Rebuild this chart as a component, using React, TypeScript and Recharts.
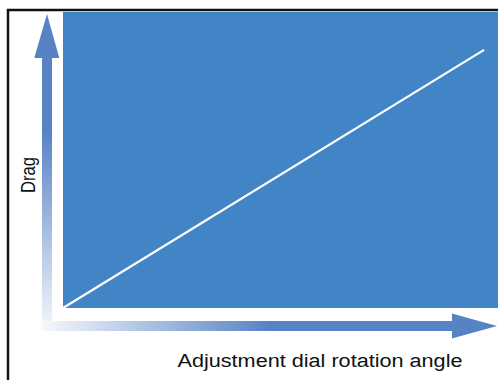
import { CartesianGrid, ComposedChart, Customized, Line, XAxis, YAxis } from 'recharts'

// dial rotation angle (% of range) vs drag (% of range)
const angle = [0, 96.8]
const drag = [0, 87.2]
const xTitle = 'Adjustment dial rotation angle'
const yTitle = 'Drag'

const data = angle.map((a, i) => ({ angle: a, drag: drag[i] }))

const W = 498
const H = 380
const PLOT_BG = '#4285c6'
const ARROW = '#5783c5'
const FONT = '"Liberation Sans", Arial, Helvetica, sans-serif'

function Decorations(): React.JSX.Element {
  return (
    <g>
      <defs>
        <linearGradient id="vGrad" x1="0" y1="1" x2="0" y2="0">
          <stop offset="0" stopColor="#f6f8fc" />
          <stop offset="0.63" stopColor={ARROW} />
          <stop offset="1" stopColor={ARROW} />
        </linearGradient>
        <linearGradient id="hGrad" x1="0" y1="0" x2="1" y2="0">
          <stop offset="0" stopColor="#f6f8fc" />
          <stop offset="0.5" stopColor={ARROW} />
          <stop offset="1" stopColor={ARROW} />
        </linearGradient>
      </defs>
      {/* vertical arrow */}
      <polygon
        points="42,331 42,58 34.3,58 47,14 59.3,58 52,58 52,331"
        fill="url(#vGrad)"
      />
      {/* horizontal arrow */}
      <polygon
        points="42,321 452,321 452,313.5 497,326 452,338.5 452,331 42,331"
        fill="url(#hGrad)"
      />
      <text
        transform="translate(35,175) rotate(-90)"
        textAnchor="middle"
        fontFamily={FONT}
        fontSize={19.5}
        textLength={36}
        lengthAdjust="spacingAndGlyphs"
        fill="#111"
      >
        {yTitle}
      </text>
      <text
        x={320}
        y={367}
        textAnchor="middle"
        fontFamily={FONT}
        fontSize={18}
        textLength={285}
        lengthAdjust="spacingAndGlyphs"
        fill="#111"
      >
        {xTitle}
      </text>
      <rect x={8} y={10} width={500} height={380} fill="none" stroke="#111" strokeWidth={2.5} />
    </g>
  )
}

export default function App(): React.JSX.Element {
  return (
    <div style={{ position: 'absolute', left: 0, top: 0, width: W, height: H, background: '#fff' }}>
      <ComposedChart width={W} height={H} data={data} margin={{ top: 12, right: 0, bottom: 72, left: 63 }}>
        <CartesianGrid fill={PLOT_BG} horizontal={false} vertical={false} stroke="none" />
        <XAxis dataKey="angle" type="number" domain={[0, 100]} hide />
        <YAxis type="number" domain={[0, 100]} hide />
        <Line
          type="linear"
          dataKey="drag"
          stroke="#ffffff"
          strokeWidth={2.2}
          dot={false}
          isAnimationActive={false}
        />
        <Customized component={Decorations} />
      </ComposedChart>
    </div>
  )
}
